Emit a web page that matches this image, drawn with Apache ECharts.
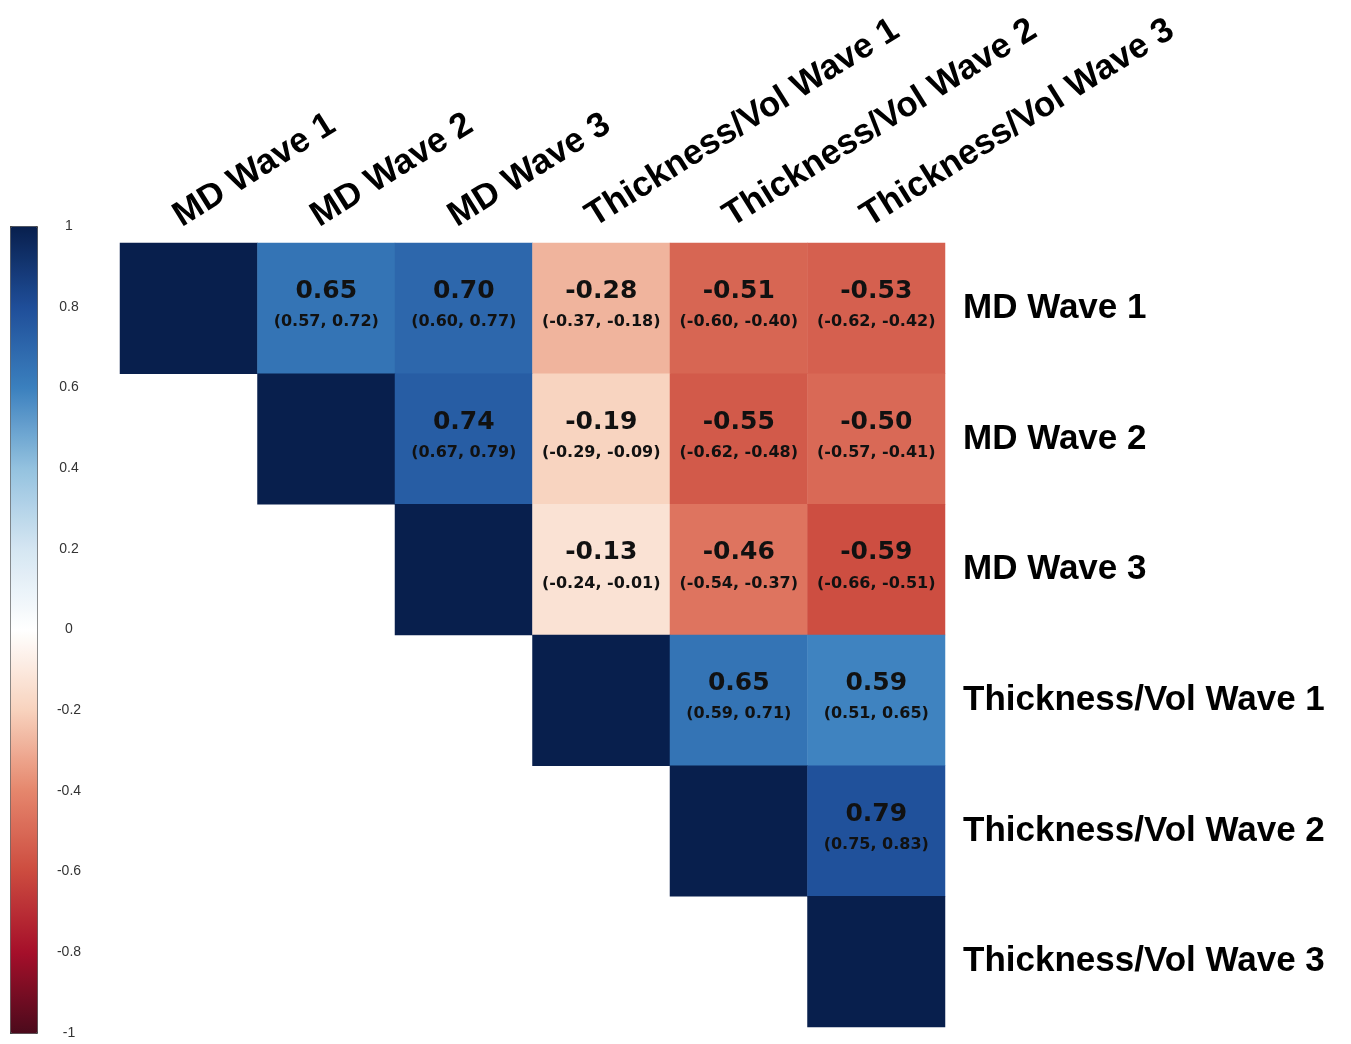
<!DOCTYPE html>
<html>
<head>
<meta charset="utf-8">
<script src="https://cdn.jsdelivr.net/npm/echarts@6/dist/echarts.min.js"></script>
<style>
  html, body { margin: 0; padding: 0; background: #fff; }
  #chart { width: 1351px; height: 1044px; }
</style>
</head>
<body>
<div id="chart"></div>
<script>
// variables (same order on both axes)
const variables = [
  'MD Wave 1', 'MD Wave 2', 'MD Wave 3',
  'Thickness/Vol Wave 1', 'Thickness/Vol Wave 2', 'Thickness/Vol Wave 3'
];

// upper triangle only, null = not drawn
const rValues = [
  [1, 0.65, 0.70, -0.28, -0.51, -0.53],
  [null, 1, 0.74, -0.19, -0.55, -0.50],
  [null, null, 1, -0.13, -0.46, -0.59],
  [null, null, null, 1, 0.65, 0.59],
  [null, null, null, null, 1, 0.79],
  [null, null, null, null, null, 1]
];
const ciLower = [
  [null, 0.57, 0.60, -0.37, -0.60, -0.62],
  [null, null, 0.67, -0.29, -0.62, -0.57],
  [null, null, null, -0.24, -0.54, -0.66],
  [null, null, null, null, 0.59, 0.51],
  [null, null, null, null, null, 0.75],
  [null, null, null, null, null, null]
];
const ciUpper = [
  [null, 0.72, 0.77, -0.18, -0.40, -0.42],
  [null, null, 0.79, -0.09, -0.48, -0.41],
  [null, null, null, -0.01, -0.37, -0.51],
  [null, null, null, null, 0.71, 0.65],
  [null, null, null, null, null, 0.83],
  [null, null, null, null, null, null]
];

// colour ramp from -1 to 1
const rampColors = [
  '#4B0A1C', '#A50F2A', '#CC4B3F', '#E5866C', '#F8D2BD', '#FFFFFF',
  '#D5E6F2', '#94C2DF', '#3B80BE', '#1F4E99', '#081F4D'
];

const chart = echarts.init(document.getElementById('chart'));

// build heatmap cells: [col, row, r, lo, hi]
const cells = [];
rValues.forEach((row, i) => {
  row.forEach((r, j) => {
    if (r === null) return;
    cells.push([j, i, r, ciLower[i][j], ciUpper[i][j]]);
  });
});

const fmt = v => v.toFixed(2);
const labelFont = '"Liberation Sans", Arial, sans-serif';
const cellFont = '"DejaVu Sans", sans-serif';

const option = {
  backgroundColor: '#fff',
  animation: false,
  grid: [
    { left: 120, top: 243, width: 825, height: 784 },
    // shifted copy just for the slanted column labels
    { left: 108, top: 243, width: 825, height: 784 },
    // colour bar scale
    { left: 10, top: 226, width: 27, height: 807 }
  ],
  xAxis: [
    { gridIndex: 0, type: 'category', data: variables, show: false },
    {
      gridIndex: 1, type: 'category', data: variables, position: 'top',
      axisLine: { show: false }, axisTick: { show: false }, splitLine: { show: false },
      axisLabel: {
        interval: 0, rotate: -32, margin: 24,
        fontSize: 35, fontWeight: 'bold', color: '#000', fontFamily: labelFont
      }
    },
    { gridIndex: 2, type: 'value', show: false, min: 0, max: 1 }
  ],
  yAxis: [
    {
      gridIndex: 0, type: 'category', data: variables, inverse: true, position: 'right',
      axisLine: { show: false }, axisTick: { show: false }, splitLine: { show: false },
      axisLabel: {
        margin: 18, fontSize: 35, fontWeight: 'bold', color: '#000', fontFamily: labelFont
      }
    },
    { gridIndex: 1, type: 'category', data: variables, show: false },
    {
      gridIndex: 2, type: 'value', min: -1, max: 1, interval: 0.2, position: 'right',
      axisLine: { show: false },
      axisTick: { show: true, length: 5, lineStyle: { color: '#555' } },
      splitLine: { show: false },
      axisLabel: {
        margin: 32, align: 'center', fontSize: 14, color: '#333', fontFamily: labelFont,
        formatter: v => String(+v.toFixed(1))
      }
    }
  ],
  visualMap: {
    type: 'continuous',
    min: -1, max: 1,
    dimension: 2,
    seriesIndex: 0,
    calculable: false,
    hoverLink: false,
    showLabel: false,
    text: ['', ''],
    left: 10, top: 226,
    itemWidth: 27, itemHeight: 807,
    padding: 0,
    borderWidth: 1,
    borderColor: '#444',
    inRange: { color: rampColors }
  },
  series: [
    {
      type: 'heatmap',
      xAxisIndex: 0, yAxisIndex: 0,
      data: cells,
      itemStyle: { borderWidth: 0 },
      emphasis: { disabled: true },
      label: {
        show: true,
        offset: [0, -1],
        formatter: p => {
          const v = p.value;
          if (v[0] === v[1]) return '';
          return '{r|' + fmt(v[2]) + '}\n{ci|(' + fmt(v[3]) + ', ' + fmt(v[4]) + ')}';
        },
        rich: {
          r: { fontSize: 25, fontWeight: 'bold', color: '#111', fontFamily: cellFont, lineHeight: 30 },
          ci: { fontSize: 16, fontWeight: 'bold', color: '#111', fontFamily: cellFont, lineHeight: 32 }
        }
      }
    },
    { type: 'scatter', xAxisIndex: 1, yAxisIndex: 1, data: [] },
    { type: 'scatter', xAxisIndex: 2, yAxisIndex: 2, data: [] }
  ]
};

chart.setOption(option);
</script>
</body>
</html>
